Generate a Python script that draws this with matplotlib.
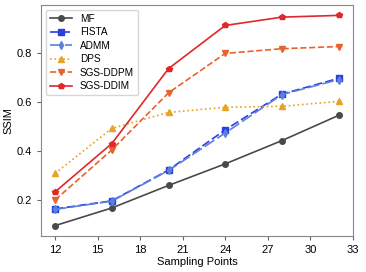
import matplotlib
matplotlib.use('Agg')
import matplotlib.pyplot as plt

plt.rcParams['font.family'] = ['Liberation Sans', 'DejaVu Sans']

points = [12, 16, 20, 24, 28, 32]
mf = [0.094, 0.166, 0.258, 0.346, 0.441, 0.544]
fista = [0.162, 0.195, 0.321, 0.485, 0.631, 0.695]
admm = [0.160, 0.194, 0.319, 0.472, 0.629, 0.690]
dps = [0.307, 0.491, 0.556, 0.577, 0.581, 0.601]
sgs_ddpm = [0.199, 0.403, 0.636, 0.797, 0.816, 0.825]
sgs_ddim = [0.232, 0.429, 0.735, 0.911, 0.945, 0.952]

fig = plt.figure(figsize=(3.66, 2.72), dpi=100)
ax = fig.add_axes([0.112, 0.132, 0.852, 0.85])

ax.plot(points, mf, color='#4a4a4a', marker='o', ms=4, lw=1.2, label='MF')
ax.plot(points, fista, color='#2a3fe0', marker='s', ms=4, lw=1.2, ls=(0, (5, 2)), label='FISTA')
ax.plot(points, admm, color='#5b80dd', marker='d', ms=4, lw=1.2, ls=(0, (7, 2)), label='ADMM')
ax.plot(points, dps, color='#e8a322', marker='^', ms=4, lw=1.2, ls=':', label='DPS')
ax.plot(points, sgs_ddpm, color='#e8622e', marker='v', ms=4, lw=1.2, ls='--', label='SGS-DDPM')
ax.plot(points, sgs_ddim, color='#e0282a', marker='p', ms=4, lw=1.2, label='SGS-DDIM')

ax.set_xticks([12, 15, 18, 21, 24, 27, 30, 33])
ax.set_yticks([0.2, 0.4, 0.6, 0.8])
ax.set_xlim(11, 33)
ax.tick_params(labelsize=8, length=3, color='#666666')
ax.set_xlabel('Sampling Points', fontsize=8, labelpad=1)
ax.set_ylabel('SSIM', fontsize=8, labelpad=2)
for s in ax.spines.values():
    s.set_color('#888888')
ax.legend(loc='upper left', fontsize=7.2, handlelength=2.2, labelspacing=0.35, borderpad=0.4)

fig.savefig('out.png', dpi=100)
